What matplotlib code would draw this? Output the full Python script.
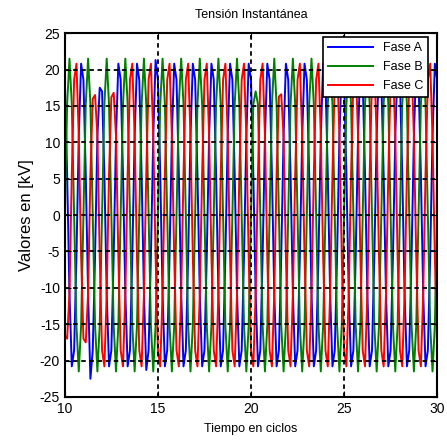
import numpy as np
import matplotlib
matplotlib.use('Agg')
import matplotlib.pyplot as plt

plt.rcParams['font.family'] = ['Liberation Sans', 'DejaVu Sans']
plt.rcParams['axes.unicode_minus'] = False

# muestras de tensión (kV), 8 por ciclo, de 10 a 30 ciclos
t_start, t_end = 10.0, 30.0
fase_a = [
    18.6, 5.6, -10.8, -20.8, -18.6, -5.6, 10.8, 20.8,
    18.6, 5.6, -10.8, -22.5, -18.6, -5.6, 10.8, 17.5,
    17.0, 5.6, -10.8, -20.8, -18.6, -5.6, 10.8, 20.8,
    18.6, 5.6, -10.8, -20.8, -18.6, -5.6, 10.8, 20.8,
    18.6, 5.6, -10.8, -21.3, -18.6, -5.6, 10.8, 21.3,
    18.6, 5.6, -10.8, -20.8, -18.6, -5.6, 10.8, 20.8,
    18.6, 5.6, -10.8, -20.8, -18.6, -5.6, 10.8, 20.8,
    18.6, 5.6, -10.8, -20.8, -18.6, -5.6, 10.8, 20.8,
    18.6, 5.6, -10.8, -20.8, -18.6, -5.6, 10.8, 20.8,
    18.6, 5.6, -10.8, -20.8, -18.6, -5.6, 10.8, 20.8,
    18.6, 5.6, -10.8, -20.8, -18.6, -5.6, 10.8, 20.8,
    18.6, 5.6, -10.8, -20.8, -18.6, -5.6, 10.8, 20.8,
    18.6, 5.6, -10.8, -20.8, -18.6, -5.6, 10.8, 20.8,
    18.6, 5.6, -10.8, -20.8, -18.6, -5.6, 10.8, 20.8,
    18.6, 5.6, -10.8, -20.8, -18.6, -5.6, 10.8, 20.8,
    18.6, 5.6, -10.8, -20.8, -18.6, -5.6, 10.8, 20.8,
    18.6, 5.6, -10.8, -20.8, -18.6, -5.6, 10.8, 20.8,
    18.6, 5.6, -10.8, -20.8, -18.6, -5.6, 10.8, 20.8,
    18.6, 5.6, -10.8, -20.8, -18.6, -5.6, 10.8, 20.8,
    18.6, 5.6, -10.8, -20.8, -18.6, -5.6, 10.8, 20.8,
    18.6]
fase_b = [
    0.0, 15.2, 21.5, 15.2, 0.0, -15.2, -21.5, -15.2,
    0.0, 15.2, 21.5, 15.2, 0.0, -15.2, -21.5, -15.2,
    0.0, 15.2, 21.5, 15.2, 0.0, -15.2, -21.5, -15.2,
    0.0, 15.2, 21.5, 15.2, 0.0, -15.2, -21.5, -15.2,
    0.0, 15.2, 21.5, 15.2, 0.0, -15.2, -21.5, -15.2,
    0.0, 15.2, 21.5, 15.2, 0.0, -15.2, -21.5, -15.2,
    0.0, 15.2, 21.5, 15.2, 0.0, -15.2, -21.5, -15.2,
    0.0, 15.2, 21.5, 15.2, 0.0, -15.2, -21.5, -15.2,
    0.0, 15.2, 21.5, 15.2, 0.0, -15.2, -21.5, -15.2,
    0.0, 15.2, 21.5, 15.2, 0.0, -15.2, -21.5, -15.2,
    0.0, 15.2, 17.0, 15.2, 0.0, -15.2, -21.5, -15.2,
    0.0, 15.2, 21.5, 15.2, 0.0, -15.2, -21.5, -15.2,
    0.0, 15.2, 21.5, 15.2, 0.0, -15.2, -21.5, -15.2,
    0.0, 15.2, 21.5, 15.2, 0.0, -15.2, -21.5, -15.2,
    0.0, 15.2, 21.5, 15.2, 0.0, -15.2, -21.5, -15.2,
    0.0, 15.2, 21.5, 15.2, 0.0, -15.2, -21.5, -15.2,
    0.0, 15.2, 21.5, 15.2, 0.0, -15.2, -21.5, -15.2,
    0.0, 15.2, 21.5, 15.2, 0.0, -15.2, -21.5, -15.2,
    0.0, 15.2, 21.5, 15.2, 0.0, -15.2, -21.5, -15.2,
    0.0, 15.2, 21.5, 15.2, 0.0, -15.2, -21.5, -15.2,
    0.0]
fase_c = [
    -16.5, -17.0, -10.8, 5.6, 18.6, 20.8, 10.8, -5.6,
    -17.0, -17.5, -10.8, 5.6, 16.0, 16.5, 10.8, -5.6,
    -18.6, -20.8, -10.8, 5.6, 16.2, 16.8, 10.8, -5.6,
    -18.6, -20.8, -10.8, 5.6, 18.6, 20.8, 10.8, -5.6,
    -18.6, -20.8, -10.8, 5.6, 18.6, 20.8, 10.8, -5.6,
    -18.6, -20.8, -10.8, 5.6, 18.6, 20.8, 10.8, -5.6,
    -18.6, -20.8, -10.8, 5.6, 18.6, 20.8, 10.8, -5.6,
    -18.6, -20.8, -10.8, 5.6, 18.6, 20.8, 10.8, -5.6,
    -18.6, -20.8, -10.8, 5.6, 18.6, 20.8, 10.8, -5.6,
    -18.6, -20.8, -10.8, 5.6, 18.6, 20.8, 10.8, -5.6,
    -18.6, -20.8, -10.8, 5.6, 18.6, 20.8, 10.8, -5.6,
    -18.6, -20.8, -10.8, 5.6, 16.3, 16.6, 10.8, -5.6,
    -18.6, -20.8, -10.8, 5.6, 18.6, 20.8, 10.8, -5.6,
    -18.6, -20.8, -10.8, 5.6, 18.6, 20.8, 10.8, -5.6,
    -18.6, -20.8, -10.8, 5.6, 18.6, 20.8, 10.8, -5.6,
    -18.6, -20.8, -10.8, 5.6, 18.6, 20.8, 10.8, -5.6,
    -18.6, -20.8, -10.8, 5.6, 18.6, 20.8, 10.8, -5.6,
    -18.6, -20.8, -10.8, 5.6, 18.6, 20.8, 10.8, -5.6,
    -18.6, -20.8, -10.8, 5.6, 18.6, 20.8, 10.8, -5.6,
    -18.6, -20.8, -10.8, 5.6, 18.6, 20.8, 10.8, -5.6,
    -18.6]
series_labels = ['Fase A', 'Fase B', 'Fase C']
x_ticks = [10, 15, 20, 25, 30]
y_ticks = [-25, -20, -15, -10, -5, 0, 5, 10, 15, 20, 25]

t = np.linspace(t_start, t_end, len(fase_a))

fig = plt.figure(figsize=(4.47, 4.42), dpi=100)
ax = fig.add_axes([0.145, 0.102, 0.833, 0.823])
colors = [(0, 0, 1), (0, 0.5, 0), (1, 0, 0)]
for vals, col, lab in zip([fase_a, fase_b, fase_c], colors, series_labels):
    ax.plot(t, vals, color=col, lw=1.4, label=lab)
ax.set_xlim(10, 30)
ax.set_ylim(-25, 25)
ax.set_xticks(x_ticks)
ax.set_yticks(y_ticks)
ax.grid(True, color='k', linestyle=(0, (2.5, 2)), linewidth=1.3)
ax.set_axisbelow(False)
ax.tick_params(direction='in', top=True, right=True, length=4, labelsize=10)
for s in ax.spines.values():
    s.set_linewidth(1.5)
ax.set_title('Tensión Instantánea', fontsize=9, pad=11)
ax.set_xlabel('Tiempo en ciclos', fontsize=9, labelpad=5)
ax.set_ylabel('Valores en [kV]', fontsize=12)
leg = ax.legend(loc='upper right', bbox_to_anchor=(0.976, 0.989), borderaxespad=0,
                fontsize=9, fancybox=False, framealpha=1, edgecolor='k',
                handlelength=3.6, labelspacing=0.55)
leg.get_frame().set_linewidth(1.2)
fig.savefig('out.png', dpi=100)
